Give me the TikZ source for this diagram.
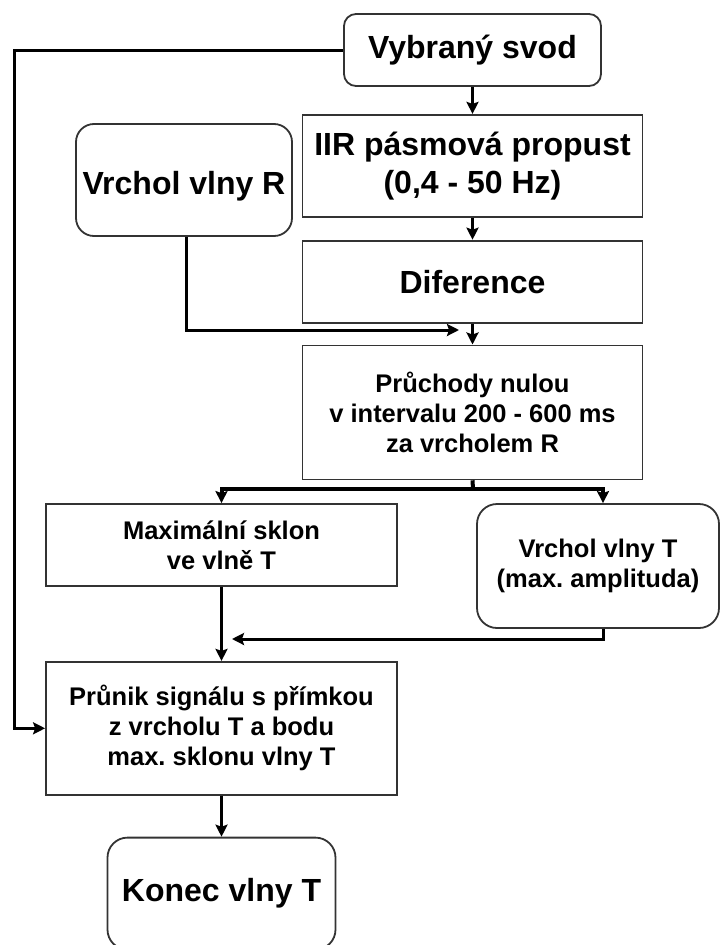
\documentclass[tikz,border=0pt]{standalone}
\usepackage{fontspec}
\setmainfont{Liberation Sans}
\usetikzlibrary{positioning,arrows.meta}
\frenchspacing

\begin{document}
\begin{tikzpicture}[
    x=1pt, y=-1pt,
    block/.style={rectangle, draw=black!80, line width=1.8pt, align=center, inner sep=0pt},
    rblock/.style={block, rounded corners=16pt},
    bigtxt/.style={font=\fontsize{32}{38}\selectfont\bfseries},
    smalltxt/.style={font=\fontsize{25.5}{30}\selectfont\bfseries},
    arrow/.style={->, >={Stealth[length=12pt,width=12pt,inset=2pt]}, line width=3pt},
    fork/.style={line width=4pt}
  ]
  \useasboundingbox (0,0) rectangle (720,945);

  % Main column
  \node[rblock, bigtxt, rounded corners=12pt, minimum width=257pt, minimum height=72pt] (svod) at (472.5,50) {Vybraný svod};
  \node[block, bigtxt, minimum width=340pt, minimum height=102pt, below=27pt of svod] (iir) {IIR pásmová propust\\(0,4 - 50 Hz)};
  \node[block, bigtxt, minimum width=340pt, minimum height=82pt, below=22pt of iir] (diference) {Diference};
  \node[block, smalltxt, minimum width=340pt, minimum height=134pt, below=21pt of diference] (pruchody) {Průchody nulou\\v intervalu 200 - 600 ms\\za vrcholem R};

  % R peak
  \node[rblock, bigtxt, rounded corners=18pt, minimum width=216pt, minimum height=112pt, text height=28pt, text depth=0pt] (vrcholR) at (184,180) {Vrchol vlny R};

  % T wave branch
  \node[block, smalltxt, minimum width=351pt, minimum height=82pt] (sklon) at (221.5,545) {Maximální sklon\\ve vlně T};
  \node[rblock, smalltxt, rounded corners=20pt, minimum width=242pt, minimum height=124pt] (vrcholT) at (598,566) {Vrchol vlny T\\(max. amplituda)};
  \node[block, smalltxt, minimum width=351pt, minimum height=133pt, below=74pt of sklon] (prunik) {Průnik signálu s přímkou\\z vrcholu T a bodu\\max. sklonu vlny T};
  \node[rblock, bigtxt, rounded corners=20pt, minimum width=228pt, minimum height=112pt, below=41pt of prunik] (konec) {Konec vlny T};

  % Helper points
  \coordinate (leftrail) at (14,50);
  \coordinate (rjoin) at (459,330);
  \coordinate (fork) at (473,489);
  \coordinate (tjoin) at (232,639);

  % Arrows
  \draw[arrow] (svod) -- (iir);
  \draw[arrow] (iir) -- (diference);
  \draw[arrow] (diference) -- (pruchody);
  \draw[arrow] ([xshift=2pt]vrcholR.south) |- (rjoin);
  \draw[arrow] (svod.west) -- (leftrail) |- (prunik.west);

  \draw[fork] (pruchody.south) -- (fork);
  \draw[arrow, fork] (fork) -| (sklon.north);
  \draw[arrow, fork] (fork) -| ([xshift=5pt]vrcholT.north);

  \draw[arrow] (sklon) -- (prunik);
  \draw[arrow] ([xshift=5pt]vrcholT.south) |- (tjoin);
  \draw[arrow] (prunik) -- (konec);
\end{tikzpicture}
\end{document}
